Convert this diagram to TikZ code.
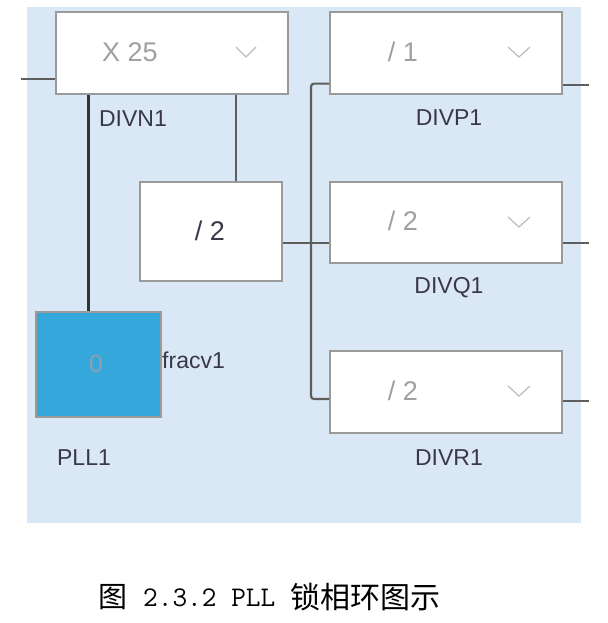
\documentclass[tikz,border=0pt]{standalone}
\usepackage{fontspec}
\setmainfont{Liberation Sans}
\newfontfamily\cjk{Noto Sans CJK SC}
\definecolor{bgblue}{HTML}{DAE8F5}
\definecolor{pllblue}{HTML}{36A7DB}
\definecolor{boxline}{HTML}{9A9A9A}
\definecolor{wire}{HTML}{5E5E5E}
\definecolor{valgray}{HTML}{A0A0A0}
\definecolor{labtext}{HTML}{3A3848}
\begin{document}
\begin{tikzpicture}[x=1pt,y=-1pt,
  selbox/.style={draw=boxline,line width=1.3pt,fill=white,minimum width=232pt,minimum height=82pt,inner sep=0pt},
  wireline/.style={draw=wire,line width=2.2pt},
  valtext/.style={font=\fontsize{27}{30}\selectfont,text=valgray},
  labtxt/.style={font=\fontsize{23}{26}\selectfont,text=labtext},
  captxt/.style={inner sep=0pt,text=black},
  chev/.style={draw=valgray!70,line width=1.2pt}]
\useasboundingbox (0,0) rectangle (607,623);
\fill[bgblue] (27,7) rectangle (581,523);
% boxes
\node[selbox] (x25) at (172,53) {};
\node[selbox] (divp) at (446,53) {};
\node[selbox,minimum height=81pt] (divq) at (446,222.5) {};
\node[selbox] (divr) at (446,392) {};
\node[draw=boxline,line width=1.3pt,fill=white,minimum width=142pt,minimum height=99pt,inner sep=0pt] (div2) at (211,231.5) {};
\node[draw=boxline,line width=1.3pt,fill=pllblue,minimum width=125pt,minimum height=105pt,inner sep=0pt] (pll) at (98.5,364.5) {};
% values
\node[valtext] (vx25) at (130,52) {X 25};
\node[valtext] (vp) at (403,52) {/ 1};
\node[valtext] (vq) at (403,221) {/ 2};
\node[valtext] (vr) at (403,391) {/ 2};
\node[valtext,text=labtext] (v2) at (210,231) {/ 2};
\node[font=\fontsize{25}{28}\selectfont,text=valgray!80!pllblue] (v0) at (96,364) {0};
% chevrons
\draw[chev] (236,47) -- (246,57) -- (256,47);
\draw[chev] (508,47) -- (519,57) -- (530,47);
\draw[chev] (508,217) -- (519,227) -- (530,217);
\draw[chev] (508,386) -- (519,396) -- (530,386);
% labels
\node[labtxt] (ln) at (133,119) {DIVN1};
\node[labtxt] (lp) at (449,118) {DIVP1};
\node[labtxt] (lq) at (449,288) {DIVQ1};
\node[labtxt] (lr) at (449,458) {DIVR1};
\node[labtxt] (lpll) at (84,458) {PLL1};
\node[labtxt,anchor=west,inner sep=0pt] (lfr) at (162,360) {fracv1};
% wires
\coordinate (in) at (21,79);
\coordinate (bus) at (311,243);
\coordinate (op) at (589,85);
\coordinate (oq) at (589,243);
\coordinate (or) at (589,401);
\draw[wireline] (in) -- (in -| x25.west);
\draw[draw=black!80,line width=2.6pt] ([xshift=33pt]x25.south west) -- ([xshift=53pt]pll.north west);
\draw[wireline] ([xshift=181pt]x25.south west) -- ([xshift=181pt]x25.south west |- div2.north);
\draw[wireline] (div2.east |- bus) -- (bus) -- (bus -| divq.west);
\draw[wireline,rounded corners=3pt] ([yshift=11pt]divp.south west) -| (bus) |- ([yshift=-7pt]divr.center -| divr.west);
\draw[wireline] (op -| divp.east) -- (op);
\draw[wireline] (oq -| divq.east) -- (oq);
\draw[wireline] (or -| divr.east) -- (or);
% caption
\node[captxt,font=\cjk\fontsize{29}{32}\selectfont] (cap1) at (113,597) {图};
\node[captxt,anchor=west,font=\ttfamily\fontsize{28.5}{31}\selectfont] (cap2) at (143,598) {2.3.2 PLL};
\node[captxt,anchor=west,font=\cjk\fontsize{30}{33}\selectfont] (cap3) at (290,597) {锁相环图示};
\end{tikzpicture}
\end{document}
